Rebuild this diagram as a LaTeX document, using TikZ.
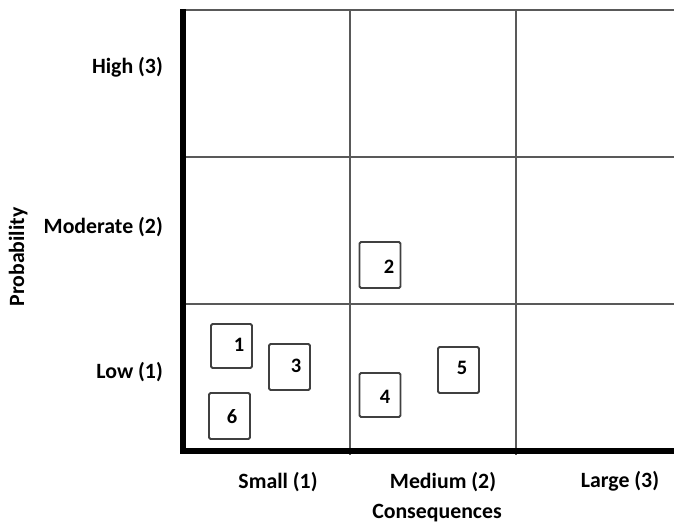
\documentclass[tikz,border=0pt]{standalone}
\usepackage{fontspec}
\setmainfont{Carlito}
\begin{document}
\begin{tikzpicture}[x=1pt,y=-1pt,
  gridline/.style={draw=black!65,line width=2pt},
  axisline/.style={draw=black,line width=6pt},
  riskbox/.style={draw=black!75,line width=1.8pt,rounded corners=1.5pt,minimum width=41pt,minimum height=44pt,inner sep=0pt},
  num/.style={font=\bfseries\fontsize{20.5}{20.5}\selectfont,inner sep=0pt},
  lab/.style={font=\bfseries\fontsize{21.8}{21.8}\selectfont,inner sep=0pt}]
\useasboundingbox (0,0) rectangle (674,522);
% grid corners
\coordinate (tl) at (183,10);
\coordinate (tr) at (674,10);
\coordinate (bl) at (183,451);
\coordinate (br) at (674,451);
\coordinate (h1l) at (183,157);
\coordinate (h1r) at (674,157);
\coordinate (h2l) at (183,304);
\coordinate (h2r) at (674,304);
\coordinate (v1t) at (350,10);
\coordinate (v1b) at (350,455);
\coordinate (v2t) at (516,10);
\coordinate (v2b) at (516,455);
\draw[gridline] (tl) -- (tr);
\draw[gridline] (h1l) -- (h1r);
\draw[gridline] (h2l) -- (h2r);
\draw[gridline] (v1t) -- (v1b);
\draw[gridline] (v2t) -- (v2b);
\coordinate (axtop) at (183,9);
\coordinate (axcorner) at (183,451);
\coordinate (axright) at (674,451);
\draw[axisline] (axtop) -- (axcorner) -- (axright);
% risk boxes
\node[riskbox] (b1) at (231.5,346) {};
\node[riskbox,minimum height=46pt] (b3) at (289.5,367) {};
\node[riskbox,minimum height=46pt] (b6) at (229.5,416) {};
\node[riskbox,minimum height=46pt] (b2) at (380,265) {};
\node[riskbox] (b4) at (380,395) {};
\node[riskbox,minimum height=46pt] (b5) at (458.5,370) {};
\node[num] (t1) at (239,345) {1};
\node[num] (t3) at (296,366) {3};
\node[num] (t6) at (232,417) {6};
\node[num] (t2) at (389,267) {2};
\node[num] (t4) at (385,397) {4};
\node[num] (t5) at (462,368) {5};
% axis labels
\node[lab,anchor=base east] (high) at (163,73) {High (3)};
\node[lab,anchor=base east] (mod) at (163,233) {Moderate (2)};
\node[lab,anchor=base east] (low) at (163,378) {Low (1)};
\node[lab,rotate=90,anchor=base] (prob) at (24,257) {Probability};
\node[lab,anchor=base] (small) at (278,488) {Small (1)};
\node[lab,anchor=base] (med) at (443,488) {Medium (2)};
\node[lab,anchor=base] (large) at (620,487) {Large (3)};
\node[lab,anchor=base] (cons) at (437,518) {Consequences};
\end{tikzpicture}
\end{document}
